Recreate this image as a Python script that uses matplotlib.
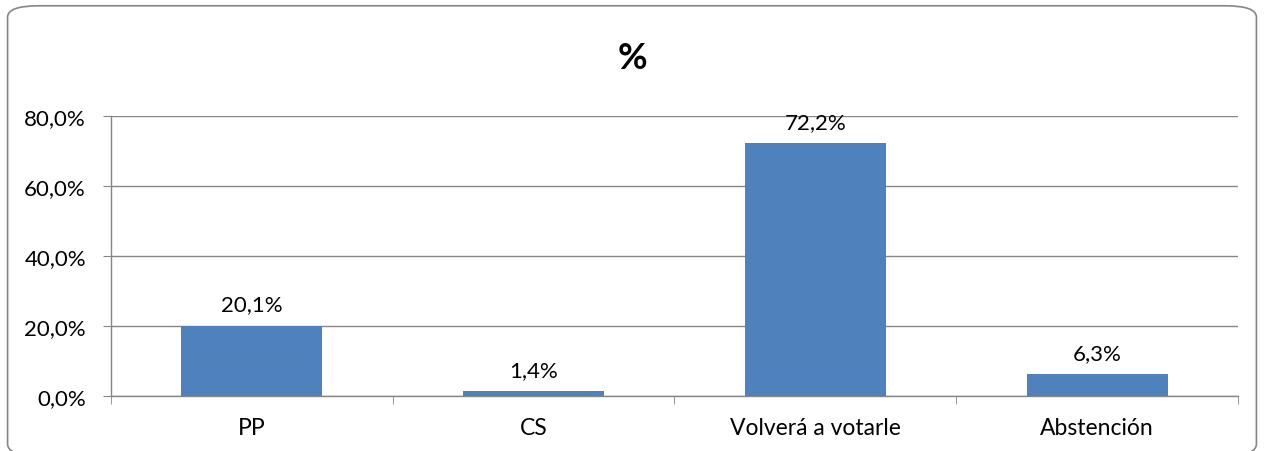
import matplotlib
matplotlib.use('Agg')
import matplotlib.pyplot as plt
from matplotlib.patches import FancyBboxPatch
from matplotlib.ticker import FuncFormatter

plt.rcParams['font.family'] = ['Lato', 'DejaVu Sans']

categorias = ['PP', 'CS', 'Volverá a votarle', 'Abstención']
valores = [20.1, 1.4, 72.2, 6.3]
yticks = [0, 20, 40, 60, 80]

azul = '#4F81BD'
gris = '#868686'

fig = plt.figure(figsize=(12.64, 4.52), dpi=100)
ax = fig.add_axes([0.0878, 0.1217, 0.8916, 0.6195])

x = list(range(len(categorias)))
ax.bar(x, valores, width=0.5, color=azul, zorder=3)

for xi, v in zip(x, valores):
    ax.text(xi, v + 3.2, f'{v:.1f}%'.replace('.', ','), ha='center', va='bottom',
            fontsize=16)

ax.set_xlim(-0.5, len(categorias) - 0.5)
ax.set_ylim(0, 80)
ax.set_yticks(yticks)
ax.yaxis.set_major_formatter(FuncFormatter(lambda v, p: f'{v:.1f}%'.replace('.', ',')))
ax.set_xticks(x)
ax.set_xticklabels(categorias)
ax.set_xticks([i - 0.5 for i in range(len(categorias) + 1)], minor=True)
ax.tick_params(axis='x', which='major', length=0, pad=15, labelsize=16.5)
ax.tick_params(axis='x', which='minor', length=6, color=gris, direction='out')
ax.tick_params(axis='y', length=6, color=gris, labelsize=16, pad=12)
ax.grid(axis='y', color=gris, linewidth=1, zorder=0)

for s in ['top', 'right']:
    ax.spines[s].set_visible(False)
for s in ['left', 'bottom']:
    ax.spines[s].set_color(gris)
    ax.spines[s].set_linewidth(1)

fig.text(0.5, 0.87, '%', ha='center', va='center', fontsize=26, fontweight='bold')

borde = FancyBboxPatch((0.006, -0.01), 0.988, 0.995, boxstyle='round,pad=0,rounding_size=0.025',
                       transform=fig.transFigure, fill=False, edgecolor=gris, linewidth=1.2)
fig.patches.append(borde)

fig.savefig('out.png', dpi=100)
